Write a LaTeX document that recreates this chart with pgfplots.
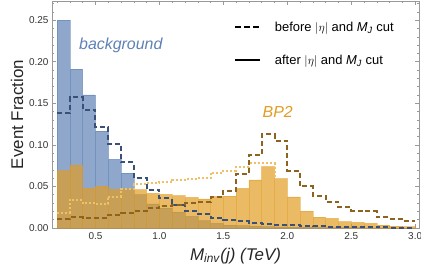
\documentclass[border=0pt]{standalone}
\usepackage{fontspec}
\setmainfont{Liberation Sans}
\usepackage{pgfplots}
\pgfplotsset{compat=1.18}
\usepackage{pgfplotstable}

\definecolor{mblue}{RGB}{94,129,181}
\definecolor{morange}{RGB}{225,156,36}
\definecolor{dblue}{RGB}{58,80,120}
\definecolor{dbrown}{RGB}{140,100,32}
\definecolor{lorange}{RGB}{240,192,105}

% background, after cuts (solid bars)
\pgfplotstableread{
x y
0.2 0.250
0.3 0.191
0.4 0.160
0.5 0.1166
0.6 0.0825
0.7 0.0660
0.8 0.0400
0.9 0.0290
1.0 0.0240
1.1 0.0190
1.2 0.0140
1.3 0.0090
1.4 0.0055
1.5 0.0035
1.6 0.0028
1.7 0.0022
1.8 0.0018
1.9 0.0015
2.0 0.0012
2.1 0.0010
2.2 0.0008
2.3 0.0006
2.4 0.0005
2.5 0.0004
2.6 0.0003
2.7 0.0003
2.8 0.0002
2.9 0.0002
3.0 0.0002
}\bkgafter

% background, before cuts (dashed)
\pgfplotstableread{
x y
0.2 0.138
0.3 0.157
0.4 0.142
0.5 0.122
0.6 0.101
0.7 0.079
0.8 0.060
0.9 0.0457
1.0 0.0357
1.1 0.0276
1.2 0.0208
1.3 0.0168
1.4 0.0122
1.5 0.0100
1.6 0.0084
1.7 0.0064
1.8 0.0050
1.9 0.0042
2.0 0.0034
2.1 0.0028
2.2 0.0022
2.3 0.0018
2.4 0.0015
2.5 0.0012
2.6 0.0010
2.7 0.0008
2.8 0.0006
2.9 0.0005
3.0 0.0005
}\bkgbefore

% BP2, after cuts (solid bars)
\pgfplotstableread{
x y
0.2 0.0690
0.3 0.0755
0.4 0.0480
0.5 0.0503
0.6 0.0465
0.7 0.0467
0.8 0.0462
0.9 0.0417
1.0 0.0405
1.1 0.0388
1.2 0.0367
1.3 0.0351
1.4 0.0377
1.5 0.0382
1.6 0.0477
1.7 0.0580
1.8 0.0737
1.9 0.0593
2.0 0.0373
2.1 0.0204
2.2 0.0130
2.3 0.0116
2.4 0.0076
2.5 0.0068
2.6 0.0056
2.7 0.0036
2.8 0.0024
2.9 0.0016
3.0 0.0016
}\bpafter

% BP2, before cuts (dashed)
\pgfplotstableread{
x y
0.2 0.0106
0.3 0.0128
0.4 0.0116
0.5 0.0116
0.6 0.0156
0.7 0.0182
0.8 0.0205
0.9 0.0245
1.0 0.0262
1.1 0.0276
1.2 0.0300
1.3 0.0310
1.4 0.0373
1.5 0.0449
1.6 0.0650
1.7 0.0877
1.8 0.1126
1.9 0.1046
2.0 0.0685
2.1 0.0500
2.2 0.0387
2.3 0.0316
2.4 0.0249
2.5 0.0208
2.6 0.0200
2.7 0.0128
2.8 0.0108
2.9 0.0084
3.0 0.0084
}\bpbefore

% BP2, dotted
\pgfplotstableread{
x y
0.2 0.0184
0.3 0.0337
0.4 0.0297
0.5 0.0285
0.6 0.0377
0.7 0.0469
0.8 0.0525
0.9 0.0540
1.0 0.0551
1.1 0.0573
1.2 0.0589
1.3 0.0597
1.4 0.0667
1.5 0.0690
1.6 0.0730
1.7 0.0785
1.8 0.0785
1.9 0.0593
}\bpdotted

\begin{document}
\begin{tikzpicture}
\begin{axis}[
  name=ax,
  width=367bp, height=227bp, scale only axis,
  xmin=0.16, xmax=3.03, ymin=0, ymax=0.273,
  axis line style={black!40, line width=0.6bp},
  tick style={black!40, line width=0.5bp},
  tick align=inside,
  major tick length=4bp, minor tick length=2.3bp,
  xtick={0.5,1.0,1.5,2.0,2.5,3.0},
  xticklabels={0.5,1.0,1.5,2.0,2.5,3.0},
  minor xtick={0.2,0.3,0.4,0.6,0.7,0.8,0.9,1.1,1.2,1.3,1.4,1.6,1.7,1.8,1.9,2.1,2.2,2.3,2.4,2.6,2.7,2.8,2.9},
  ytick={0,0.05,0.10,0.15,0.20,0.25},
  yticklabels={0.00,0.05,0.10,0.15,0.20,0.25},
  minor ytick={0.01,0.02,0.03,0.04,0.06,0.07,0.08,0.09,0.11,0.12,0.13,0.14,0.16,0.17,0.18,0.19,0.21,0.22,0.23,0.24,0.26,0.27},
  tick label style={font=\fontsize{10}{12}\selectfont, text=black!80},
  xticklabel style={yshift=-1.5bp},
  xlabel={\textit{M}\textsubscript{\textit{inv}}\textit{(j) (TeV)}},
  ylabel={Event Fraction},
  label style={font=\fontsize{17}{20}\selectfont, text=black!85},
  xlabel style={yshift=-1bp},
  ylabel style={yshift=-1bp},
  legend style={draw=none, fill=none, at={(0.496,0.918)}, anchor=north west,
    font=\fontsize{13}{15}\selectfont, row sep=18bp, inner sep=0pt,
    /tikz/every odd column/.append style={column sep=12bp}},
  legend cell align=left,
  legend image code/.code={\draw[#1] (0bp,0bp) -- (25bp,0bp);},
]
\addplot[forget plot, ybar interval, fill=mblue, fill opacity=0.7, draw=mblue, draw opacity=0.55, line width=0.5bp] table {\bkgafter};
\addplot[forget plot, ybar interval, fill=morange, fill opacity=0.7, draw=morange, draw opacity=0.45, line width=0.5bp] table {\bpafter};
\addplot[forget plot, const plot, lorange, line width=2bp, dash pattern=on 2bp off 2bp] table {\bpdotted};
\addplot[forget plot, const plot, dblue, line width=2bp, dash pattern=on 5bp off 3bp] table {\bkgbefore};
\addplot[forget plot, const plot, dbrown, line width=2bp, dash pattern=on 5bp off 3bp] table {\bpbefore};

\addlegendimage{black, line width=1.7bp, dash pattern=on 6bp off 3bp}
\addlegendentry{before $|\eta|$ and \textit{M}\textsubscript{\textit{J}} cut}
\addlegendimage{black, line width=1.7bp}
\addlegendentry{after $|\eta|$ and \textit{M}\textsubscript{\textit{J}} cut}

\node[text=mblue, font=\fontsize{16}{19}\selectfont\itshape] at (axis cs:0.698,0.22) {background};
\node[text=morange, font=\fontsize{16}{19}\selectfont\itshape] at (axis cs:1.925,0.139) {BP2};
\end{axis}
\pgfresetboundingbox
\path[use as bounding box] ([xshift=-52bp,yshift=-43bp]ax.south west) rectangle ([xshift=2bp,yshift=1bp]ax.north east);
\end{tikzpicture}
\end{document}
